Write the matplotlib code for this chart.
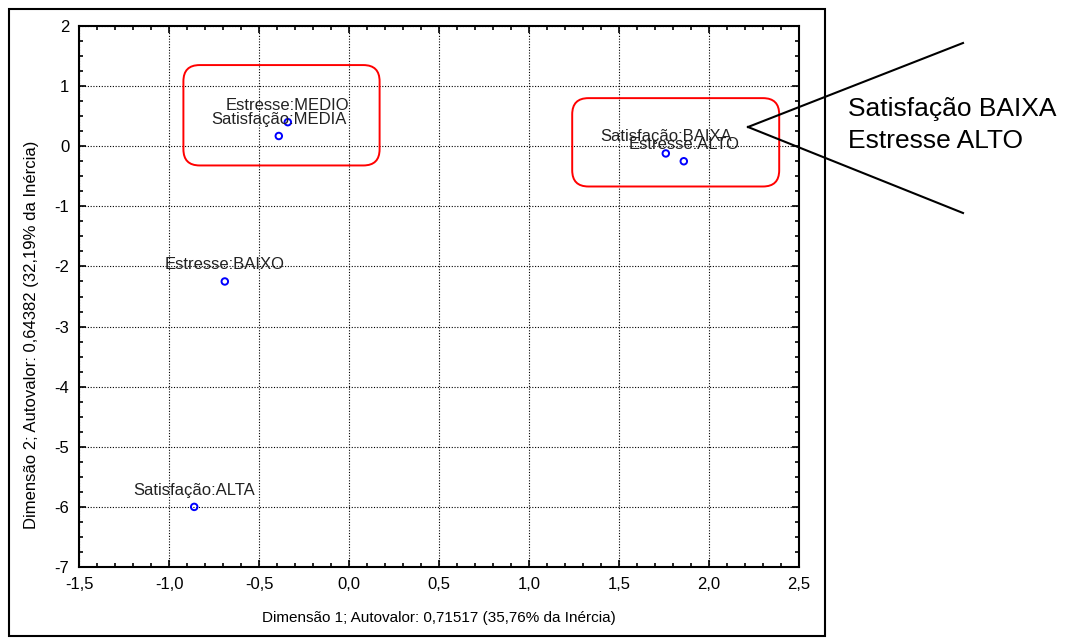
import matplotlib
matplotlib.use("Agg")
import matplotlib.pyplot as plt
from matplotlib.patches import FancyBboxPatch, Rectangle
from matplotlib.lines import Line2D
from matplotlib.ticker import MultipleLocator, FuncFormatter

plt.rcParams["font.family"] = ["Liberation Sans", "DejaVu Sans"]

# coordenadas das categorias (Dim 1, Dim 2)
labels = ["Estresse:MEDIO", "Satisfação:MEDIA", "Satisfação:BAIXA",
          "Estresse:ALTO", "Estresse:BAIXO", "Satisfação:ALTA"]
dim1 = [-0.34, -0.39, 1.76, 1.86, -0.69, -0.86]
dim2 = [0.40, 0.17, -0.12, -0.25, -2.25, -6.00]

W, H = 1070, 644
fig = plt.figure(figsize=(W / 100, H / 100), dpi=100)
ax = fig.add_axes([79 / W, (H - 567) / H, 720 / W, 541 / H])

ax.scatter(dim1, dim2, s=22, facecolors="none", edgecolors="#0000ff",
           linewidths=1.4, zorder=3)
for lab, x, y in zip(labels, dim1, dim2):
    ax.annotate(lab, (x, y), xytext=(0, 12), textcoords="offset points",
                ha="center", va="center", fontsize=12, color="#222222")

ax.set_xlim(-1.5, 2.5)
ax.set_ylim(-7, 2)
ax.xaxis.set_major_locator(MultipleLocator(0.5))
ax.xaxis.set_minor_locator(MultipleLocator(0.1))
ax.yaxis.set_major_locator(MultipleLocator(1))
ax.yaxis.set_minor_locator(MultipleLocator(0.25))
ax.xaxis.set_major_formatter(FuncFormatter(lambda v, p: f"{v:.1f}".replace(".", ",")))
ax.yaxis.set_major_formatter(FuncFormatter(lambda v, p: f"{v:.0f}"))
ax.tick_params(which="both", direction="in", top=True, right=True,
               labelsize=12, width=1.2)
ax.tick_params(which="major", length=5, pad=7)
ax.tick_params(which="minor", length=3)
ax.grid(True, which="major", linestyle=(0, (1, 1.5)), color="black", linewidth=0.8)
for s in ax.spines.values():
    s.set_linewidth(1.5)

ax.set_xlabel("Dimensão 1; Autovalor: 0,71517 (35,76% da Inércia)", fontsize=11, labelpad=14)
ax.set_ylabel("Dimensão 2; Autovalor: 0,64382 (32,19% da Inércia)", fontsize=12)
ax.yaxis.set_label_coords(-0.055, 0.43)

# caixas vermelhas arredondadas
boxes = [(-0.92, -0.32, 1.09, 1.67), (1.24, -0.67, 1.15, 1.47)]
for bx, by, bw, bh in boxes:
    ax.add_patch(FancyBboxPatch((bx, by), bw, bh,
                                boxstyle="round,pad=0,rounding_size=0.09",
                                mutation_aspect=3, fill=False,
                                edgecolor="#ff0000", linewidth=1.4, zorder=4))

# moldura externa
fig.patches.append(Rectangle((9 / W, (H - 636) / H), 816 / W, 627 / H,
                             transform=fig.transFigure, fill=False,
                             edgecolor="black", linewidth=1.5))

# chamada à direita
apex = (748 / W, (H - 127) / H)
for ey in (43, 213):
    fig.lines.append(Line2D([apex[0], 963 / W], [apex[1], (H - ey) / H],
                            transform=fig.transFigure, color="black", linewidth=1.5))
fig.text(848 / W, (H - 125) / H, "Satisfação BAIXA\nEstresse ALTO",
         fontsize=19, ha="left", va="center", linespacing=1.45)

fig.savefig("out.png", dpi=100)
